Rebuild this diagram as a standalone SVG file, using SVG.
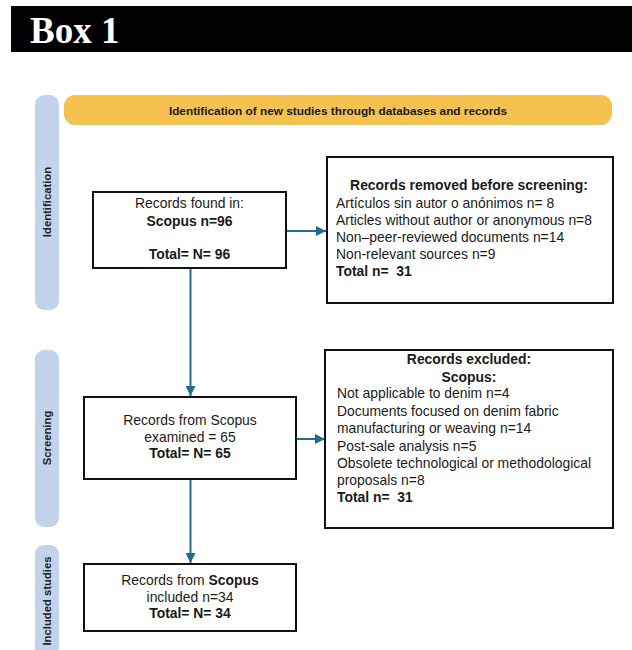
<svg xmlns="http://www.w3.org/2000/svg" width="632" height="650" viewBox="0 0 632 650">
<style>
text{font-family:"Liberation Sans",Arial,sans-serif;fill:#1a1a1a}
.t{font-size:13.9px}
.b{font-weight:bold}
.c{text-anchor:middle}
.box{fill:#fff;stroke:#111;stroke-width:2}
.side{fill:#C3D3EC}
.sl{font-size:11.3px;font-weight:bold;text-anchor:middle;fill:#222}
.conn{stroke:#236B8E;stroke-width:2;fill:none;marker-end:url(#ah)}
</style>
<defs>
<marker id="ah" viewBox="0 0 10 10" refX="10" refY="5" markerWidth="5.5" markerHeight="5" orient="auto" markerUnits="strokeWidth">
<path d="M0,0 L10,5 L0,10 z" fill="#236B8E"/>
</marker>
</defs>
<rect width="632" height="650" fill="#fff"/>
<g id="title">
<rect x="11" y="6" width="621" height="46" fill="#000"/>
<text x="30" y="43" style="font-family:'Liberation Serif','Times New Roman',serif;font-size:37px;font-weight:bold;fill:#fff">Box 1</text>
</g>
<g id="header">
<rect x="64" y="95" width="548" height="30" rx="11" fill="#F5C14F"/>
<text x="338" y="115" class="c b" style="font-size:11.8px">Identification of new studies through databases and records</text>
</g>
<g id="side-identification">
<rect class="side" x="35" y="95" width="24" height="215" rx="9"/>
<text class="sl" transform="translate(51,202) rotate(-90)">Identification</text>
</g>
<g id="side-screening">
<rect class="side" x="35" y="350" width="24" height="177" rx="9"/>
<text class="sl" transform="translate(51,438) rotate(-90)">Screening</text>
</g>
<g id="side-included">
<rect class="side" x="35" y="545" width="24" height="120" rx="9"/>
<text class="sl" transform="translate(51,601) rotate(-90)">Included studies</text>
</g>
<g id="connectors">
<line class="conn" x1="286" y1="231" x2="326" y2="231"/>
<line class="conn" x1="190.5" y1="268" x2="190.5" y2="396"/>
<line class="conn" x1="296" y1="439" x2="325" y2="439"/>
<line class="conn" x1="190.5" y1="479" x2="190.5" y2="563"/>
</g>
<g id="records-found">
<rect class="box" x="93" y="192" width="193" height="76"/>
<text class="t c" x="189.5" y="208">Records found in:</text>
<text class="t c b" x="189.5" y="226">Scopus n=96</text>
<text class="t c b" x="189.5" y="259">Total= N= 96</text>
</g>
<g id="records-removed">
<rect class="box" x="327" y="157" width="286" height="146"/>
<text class="t c b" x="469" y="190">Records removed before screening:</text>
<text class="t" x="336" y="207.5">Artículos sin autor o anónimos n= 8</text>
<text class="t" x="336" y="224.5">Articles without author or anonymous n=8</text>
<text class="t" x="336" y="241.5">Non–peer-reviewed documents n=14</text>
<text class="t" x="336" y="258.5">Non-relevant sources n=9</text>
<text class="t b" x="336" y="275.5">Total n=&#160; 31</text>
</g>
<g id="records-screened">
<rect class="box" x="84" y="397" width="212" height="82"/>
<text class="t c" x="190" y="425">Records from Scopus</text>
<text class="t c" x="190" y="442">examined = 65</text>
<text class="t c b" x="190" y="458">Total= N= 65</text>
</g>
<g id="records-excluded">
<rect class="box" x="325" y="350" width="288" height="178"/>
<text class="t c b" x="469" y="364">Records excluded:</text>
<text class="t c b" x="469" y="381.5">Scopus:</text>
<text class="t" x="337" y="398">Not applicable to denim n=4</text>
<text class="t" x="337" y="415.5">Documents focused on denim fabric</text>
<text class="t" x="337" y="433">manufacturing or weaving n=14</text>
<text class="t" x="337" y="450.5">Post-sale analysis n=5</text>
<text class="t" x="337" y="468">Obsolete technological or methodological</text>
<text class="t" x="337" y="485">proposals n=8</text>
<text class="t b" x="337" y="501.5">Total n=&#160; 31</text>
</g>
<g id="records-included">
<rect class="box" x="84" y="564" width="212" height="67"/>
<text class="t c" x="190" y="585">Records from <tspan class="b">Scopus</tspan></text>
<text class="t c" x="190" y="602">included n=34</text>
<text class="t c b" x="190" y="618">Total= N= 34</text>
</g>
</svg>
